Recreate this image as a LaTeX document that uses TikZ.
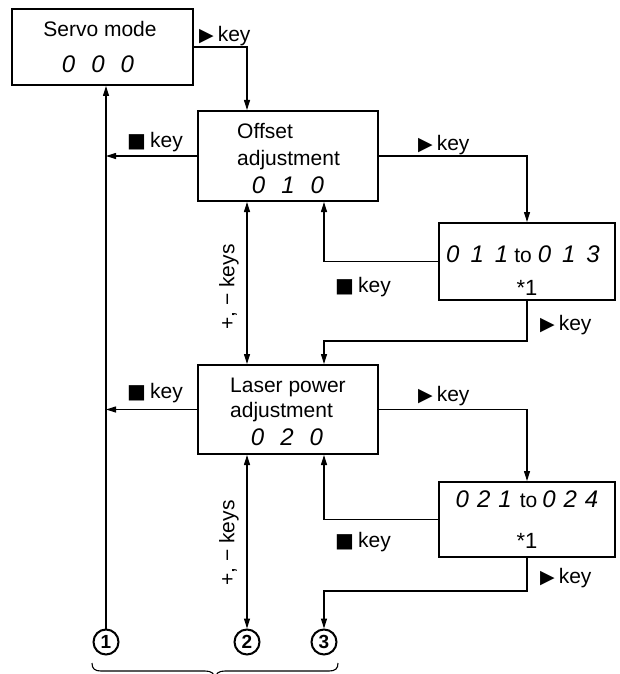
\documentclass[tikz,border=0pt]{standalone}
\usepackage{fontspec}
\setmainfont{Liberation Sans}
\newfontfamily\symfont{DejaVu Sans}
\usetikzlibrary{arrows.meta}
\newcommand{\seg}[1]{{\fontsize{24}{24}\selectfont\itshape #1}}
\newcommand{\tri}{{\symfont\fontsize{19}{19}\selectfont ▶}}
\newcommand{\sqr}{{\symfont\fontsize{20}{20}\selectfont ■}}
\begin{document}
\begin{tikzpicture}[x=1pt,y=-1pt,
 box/.style={draw, line width=2pt, inner sep=0pt},
 txt/.style={inner sep=0pt, anchor=base, font=\fontsize{21}{21}\selectfont},
 keylbl/.style={inner sep=0pt, anchor=base west, font=\fontsize{21}{21}\selectfont},
 pmlbl/.style={inner sep=0pt, rotate=90, font=\fontsize{21}{21}\selectfont},
 conn/.style={line width=1.1pt},
 tip/.style={-{Triangle[length=10pt,width=6pt]}},
 both/.style={{Triangle[length=10pt,width=6pt]}-{Triangle[length=10pt,width=6pt]}},
 circ/.style={draw, circle, line width=2pt, minimum size=25pt, inner sep=0pt, font=\fontsize{19}{19}\selectfont\bfseries}]
\useasboundingbox (0,0) rectangle (619,674);
% boxes
\node[box, minimum width=181pt, minimum height=76pt] (servo) at (102.5,47) {};
\node[box, minimum width=180pt, minimum height=90pt] (offset) at (288,156) {};
\node[box, minimum width=176pt, minimum height=77pt] (b011) at (527,261.5) {};
\node[box, minimum width=180pt, minimum height=89pt] (laser) at (288,409.5) {};
\node[box, minimum width=176pt, minimum height=75pt] (b021) at (527,519.5) {};
% box texts
\node[txt] (servoA) at (100,37) {Servo mode};
\node[txt] (servoB) at (98,73) {\seg{0\hspace{16pt}0\hspace{16pt}0}};
\node[txt, anchor=base west] (offA) at (237,139) {Offset};
\node[txt, anchor=base west] (offB) at (237,165) {adjustment};
\node[txt] (offC) at (288,193) {\seg{0\hspace{16pt}1\hspace{16pt}0}};
\node[txt, anchor=base west] (lasA) at (230,392) {Laser power};
\node[txt, anchor=base west] (lasB) at (230,417) {adjustment};
\node[txt] (lasC) at (287,445) {\seg{0\hspace{16pt}2\hspace{16pt}0}};
\node[txt] (b011A) at (523,262) {\seg{0\hspace{11pt}1\hspace{11pt}1}\hspace{6pt}to\hspace{6pt}\seg{0\hspace{11pt}1\hspace{11pt}3}};
\node[txt, font=\fontsize{22}{22}\selectfont] (b011B) at (527,295) {*1};
\node[txt] (b021A) at (527,507) {\seg{0\hspace{8pt}2\hspace{8pt}1}\hspace{8pt}to\hspace{5pt}\seg{0\hspace{8pt}2\hspace{8pt}4}};
\node[txt, font=\fontsize{22}{22}\selectfont] (b021B) at (527,548) {*1};
% circles
\node[circ] (c1) at (106,642) {1};
\node[circ] (c2) at (247,642) {2};
\node[circ] (c3) at (324,642) {3};
% routing columns
\coordinate (xL) at (106,0);
\coordinate (xM) at (247,0);
\coordinate (xI) at (324,0);
% connectors
\draw[conn,tip] (servo.east) -| (offset.north -| xM);
\draw[conn,tip] (offset.west) -- (offset.west -| xL);
\draw[conn,tip] (c1.north) -- (servo.south -| xL);
\draw[conn,tip] (offset.east) -| (b011.north);
\draw[conn,tip] (b011.west) -| (offset.south -| xI);
\draw[conn,tip] (b011.south) -- ++(0,40) -| (laser.north -| xI);
\draw[conn,both] (offset.south -| xM) -- (laser.north -| xM);
\draw[conn,tip] (laser.west) -- (laser.west -| xL);
\draw[conn,tip] (laser.east) -| (b021.north);
\draw[conn,tip] (b021.west) -| (laser.south -| xI);
\draw[conn,tip] (b021.south) -- ++(0,33) -| (c3.north);
\draw[conn,both] (laser.south -| xM) -- (c2.north);
% key labels
\node[keylbl] (k1) at (199,42) {\tri\hspace{4pt}key};
\node[keylbl] (k2) at (127,147) {\sqr\hspace{4pt}key};
\node[keylbl] (k3) at (418,150) {\tri\hspace{4pt}key};
\node[keylbl] (k4) at (335,292) {\sqr\hspace{4pt}key};
\node[keylbl] (k5) at (540,330) {\tri\hspace{4pt}key};
\node[keylbl] (k6) at (127,398) {\sqr\hspace{4pt}key};
\node[keylbl] (k7) at (418,401) {\tri\hspace{4pt}key};
\node[keylbl] (k8) at (335,547) {\sqr\hspace{4pt}key};
\node[keylbl] (k9) at (540,583) {\tri\hspace{4pt}key};
\node[pmlbl] (pm1) at (229,287) {+, − keys};
\node[pmlbl] (pm2) at (229,543) {+, − keys};
% brace
\draw[line width=1.1pt] (92,663) .. controls (92,669) and (95,671) .. (101,671) -- (205,671) .. controls (211,671) and (215,673) .. (215,680);
\draw[line width=1.1pt] (338,663) .. controls (338,669) and (335,671) .. (329,671) -- (225,671) .. controls (219,671) and (215,673) .. (215,680);
\end{tikzpicture}
\end{document}
